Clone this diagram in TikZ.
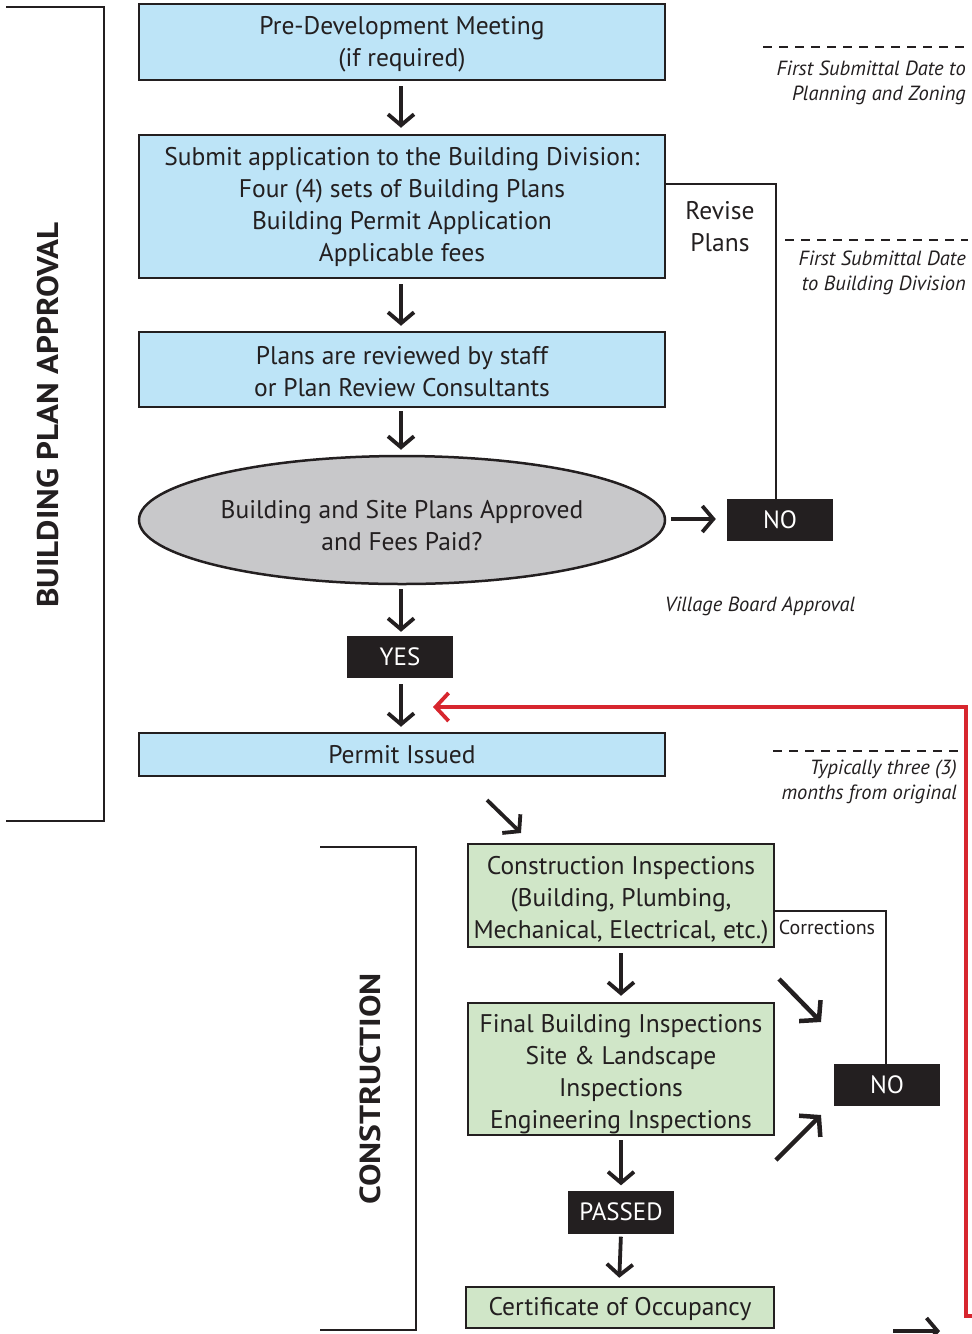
\documentclass[tikz,border=0pt]{standalone}
\usepackage{fontspec}
\setmainfont{PT Sans}
\usetikzlibrary{arrows.meta,shapes.geometric,calc}
\definecolor{ink}{RGB}{35,31,32}
\definecolor{bluefill}{RGB}{189,228,247}
\definecolor{greenfill}{RGB}{208,230,200}
\definecolor{grayfill}{RGB}{200,200,202}
\definecolor{redline}{RGB}{215,38,46}
\newcommand\downstrut[1]{\rule{0pt}{#1}}
\tikzset{
  box/.style={draw=ink, line width=2.5pt, align=center, inner sep=0pt, text=ink,
    font=\fontsize{25.5}{32}\selectfont},
  bluebox/.style={box, fill=bluefill, minimum width=526pt},
  greenbox/.style={box, fill=greenfill},
  blackbox/.style={fill=ink, text=white, minimum width=106pt, minimum height=42pt, inner sep=0pt,
    font=\fontsize{25}{28}\selectfont},
  flow/.style={draw=ink, line width=3.8pt, -{Straight Barb[length=11pt,width=26pt]}},
  bigflow/.style={draw=ink, line width=4.5pt, -{Straight Barb[length=13pt,width=30pt]}},
  thinline/.style={draw=ink, line width=1.6pt},
  note/.style={font=\fontsize{20.5}{25}\selectfont\itshape, text=ink, align=right, inner sep=0pt},
  dashline/.style={draw=ink, line width=1.8pt, dash pattern=on 9pt off 7pt},
  bracket/.style={draw=ink, line width=2.5pt},
}
\begin{document}
\begin{tikzpicture}[x=1pt,y=-1pt]
\useasboundingbox (0,0) rectangle (972,1334);

% brackets
\draw[bracket] (6,7) -- (104,7) -- (104,821) -- (6,821);
\node[rotate=90, text=ink, inner sep=0pt] (bpa) at (48,415)
  {\scalebox{1.1}[1]{\fontsize{30}{30}\selectfont\bfseries BUILDING PLAN APPROVAL}};
\draw[bracket] (320,847) -- (416,847) -- (416,1330) -- (320,1330);
\node[rotate=90, text=ink, inner sep=0pt] (con) at (370,1089)
  {\scalebox{1.16}[1]{\fontsize{29}{29}\selectfont\bfseries CONSTRUCTION}};

% top flow
\node[bluebox, minimum height=76pt] (b1) at (402,42) {\downstrut{23pt}Pre-Development Meeting\\(if required)};
\node[bluebox, minimum height=143pt] (b2) at (402,206.5) {Submit application to the Building Division:\\Four (4) sets of Building Plans\\Building Permit Application\\Applicable fees};
\node[bluebox, minimum height=75pt] (b3) at (402,369.5) {\downstrut{23pt}Plans are reviewed by staff\\or Plan Review Consultants};
\node[box, ellipse, fill=grayfill, minimum width=526pt, minimum height=128pt] (q) at (402,520) {\downstrut{29pt}Building and Site Plans Approved\\and Fees Paid?};
\node[blackbox] (no1) at (780,520) {NO};
\node[blackbox] (yes) at (400,657) {YES};
\node[bluebox, minimum height=43pt] (permit) at (402,754.5) {Permit Issued};

\draw[flow, shorten <=5pt, shorten >=6pt] ($(b1.south)+(-1,0)$) -- ($(b2.north)+(-1,0)$);
\draw[flow, shorten <=5pt, shorten >=5pt] ($(b2.south)+(-1,0)$) -- ($(b3.north)+(-1,0)$);
\draw[flow, shorten <=3pt, shorten >=5pt] ($(b3.south)+(-1,0)$) -- ($(q.north)+(-1,0)$);
\draw[flow, shorten <=4pt, shorten >=4pt] ($(q.south)+(-1,0)$) -- ($(yes.north)+(1,0)$);
\draw[flow, shorten <=6pt, shorten >=5pt] ($(yes.south)+(1,0)$) -- ($(permit.north)+(-1,0)$);
\draw[flow, shorten <=5pt, shorten >=11pt] ($(q.east |- no1.west)+(0,-1)$) -- ($(no1.west)+(0,-1)$);

% revise plans loop
\coordinate (rv) at (776,184);
\draw[thinline] (b2.east |- rv) -- (rv) -- (rv |- no1.north);
\node[text=ink, align=center, inner sep=0pt, font=\fontsize{25.5}{32}\selectfont] (revise) at (720,227) {Revise\\Plans};
\node[note] (vba) at (760,606) {Village Board Approval};

% notes
\coordinate (d1a) at (763,47); \coordinate (d1b) at (968,47);
\draw[dashline] (d1a) -- (d1b);
\node[note, anchor=north east] (n1) at (966,61) {First Submittal Date to\\Planning and Zoning};
\coordinate (d2a) at (785,240); \coordinate (d2b) at (968,240);
\draw[dashline] (d2a) -- (d2b);
\node[note, anchor=north east] (n2) at (966,251) {First Submittal Date\\to Building Division};
\coordinate (d3a) at (773,751); \coordinate (d3b) at (968,751);
\draw[dashline] (d3a) -- (d3b);
\node[note, anchor=north east] (n3) at (957,760) {Typically three (3)\\months from original};

% red loop
\coordinate (r0) at (972,1316);
\coordinate (r1) at (966,1316);
\coordinate (r2) at (966,707);
\coordinate (r3) at (433,707);
\draw[draw=redline, line width=3.8pt, -{Straight Barb[length=13pt,width=28pt]}] (r0) -- (r1) -- (r2) -- (r3);

% construction
\coordinate (pa) at (487,800); \coordinate (pb) at (521,833);
\draw[flow] (pa) -- (pb);
\node[greenbox, minimum width=306pt, minimum height=103pt] (ci) at (621,895.5) {\downstrut{27pt}Construction Inspections\\(Building, Plumbing,\\Mechanical, Electrical, etc.)};
\node[greenbox, minimum width=306pt, minimum height=132pt] (fi) at (621,1069) {\downstrut{28pt}Final Building Inspections\\Site \& Landscape\\Inspections\\Engineering Inspections};
\node[blackbox] (no2) at (887,1085) {NO};
\node[blackbox, minimum height=43pt] (passed) at (621,1212) {PASSED};
\node[greenbox, minimum width=308pt, minimum height=41pt] (cert) at (620,1307.5) {\downstrut{22pt}Certificate of Occupancy};

\draw[flow, shorten <=5pt, shorten >=6pt] (ci.south) -- (fi.north);
\draw[flow, shorten <=4pt, shorten >=5pt] (fi.south) -- (passed.north);
\draw[flow, shorten <=3pt, shorten >=8pt] (passed.south) -- ($(cert.north)+(-1,0)$);

\coordinate (c1) at (886,911);
\draw[thinline] (ci.east |- c1) -- (c1) -- (c1 |- no2.north);
\node[text=ink, inner sep=0pt, font=\fontsize{20}{22}\selectfont] (corr) at (827,927) {Corrections};

\coordinate (da) at (779,979); \coordinate (db) at (821,1022);
\draw[bigflow] (da) -- (db);
\coordinate (ua) at (776,1160); \coordinate (ub) at (821,1115);
\draw[bigflow] (ua) -- (ub);

% cut-off arrow at bottom
\coordinate (ba) at (893,1331); \coordinate (bb) at (940,1331);
\draw[flow] (ba) -- (bb);
\end{tikzpicture}
\end{document}
